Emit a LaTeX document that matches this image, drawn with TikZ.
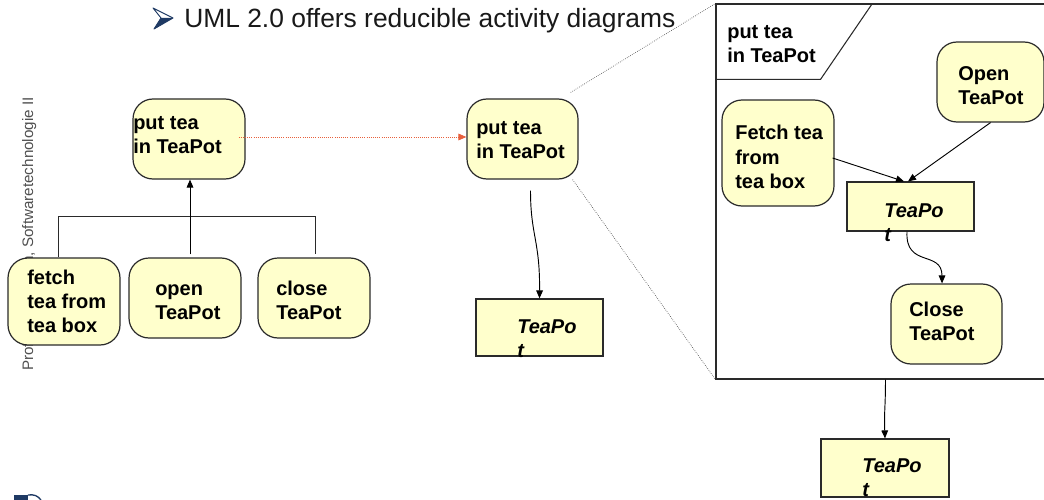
\documentclass[tikz,border=0pt]{standalone}
\usepackage{fontspec}
\setmainfont{Liberation Sans}
\usetikzlibrary{arrows.meta,calc,fit}

\definecolor{actfill}{HTML}{FFFFCC}
\definecolor{edge}{HTML}{2A2A2A}
\definecolor{navy}{HTML}{1F3A64}
\definecolor{redflow}{HTML}{E8603C}
\definecolor{sidegray}{HTML}{505050}

\tikzset{
  box/.style={inner sep=0pt, draw=edge, line width=0.9pt, fill=actfill},
  act/.style={box, rounded corners=15pt},
  obj/.style={box},
  frm/.style={inner sep=0pt, draw=edge, line width=0.8pt},
  % labels are placed by the baseline of their last line
  lbl/.style={anchor=base west, align=left, inner sep=0pt,
              font=\bfseries\fontsize{15}{18}\selectfont},
  objlbl/.style={lbl, font=\bfseries\itshape\fontsize{15}{18}\selectfont},
  flow/.style={draw=black, line width=0.7pt, -{Triangle[length=6pt,width=5pt]}},
  tree/.style={draw=edge, line width=0.7pt},
  refine/.style={draw=redflow, line width=0.6pt, densely dotted,
                 -{Triangle[length=6pt,width=5pt,fill=redflow]}},
  zoomline/.style={draw=black!70, line width=0.5pt, densely dotted},
}

\begin{document}
\begin{tikzpicture}[x=0.75pt, y=-0.75pt]
\useasboundingbox (0,0) rectangle (1044,499);

% side caption (partly covered by the first leaf action)
\node[rotate=90, anchor=base west, inner sep=0pt, text=sidegray,
      font=\fontsize{11.4}{13}\selectfont] (side) at (33,371)
      {Prof. U. Aßmann, Softwaretechnologie II};

% headline with its bullet
\fill[navy] (161,18) -- (173,18) -- (154,29) -- cycle;
\draw[navy, line width=0.7pt, line join=round]
  (153,8) -- (173,18) -- (154,29) -- (161,18) -- cycle;
\node[anchor=base west, inner sep=0pt, text=black!90,
      font=\fontsize{19.8}{23}\selectfont] (head) at (184,28)
      {UML 2.0 offers reducible activity diagrams};

% footer logo fragment
\fill[navy] (14,495) rectangle (28,500);
\draw[navy, line width=1pt] (28,495) .. controls (34,494) and (38,496) .. (41,500);

% ---------- decomposition tree ----------
\node[act, fit={(133,99) (245,179)}] (put1) {};
\node[lbl] (put1t) at (133,153) {put tea\\in TeaPot};

\node[act, fit={(8,258) (120,345)}] (fetch1) {};
\node[lbl] (fetch1t) at (27,332) {fetch\\tea from\\tea box};

\node[act, fit={(129,258) (241,338)}] (open1) {};
\node[lbl] (open1t) at (155,319) {open\\TeaPot};

\node[act, fit={(258,258) (370,338)}] (close1) {};
\node[lbl] (close1t) at (276,319) {close\\TeaPot};

\draw[tree] ($(fetch1.north)+(-6,0)$) -- ++(0,-41) -| ($(close1.north)+(1,-3)$);
\draw[flow] ($(put1.south |- open1.north)+(1,-3)$) -- ($(put1.south)+(1,0)$);

% ---------- abstract view ----------
\node[act, fit={(467,99) (578,179)}] (put2) {};
\node[lbl] (put2t) at (476,158) {put tea\\in TeaPot};

\node[obj, fit={(476,299) (603,356)}] (tp2) {};
\node[objlbl] (tp2t) at (517,357) {TeaPo\\t};

\draw[flow] ($(put2.south)+(8,11)$) .. controls +(0,45) and (540,240) .. (tp2.north);

% refinement link
\draw[refine] ($(put1.east)+(-7,-2)$) -- ($(put2.west)+(0,-2)$);

% ---------- expanded activity ----------
\node[frm, fit={(716,4) (1052,379)}] (frame) {};
\draw[frm] ($(frame.north west)+(0,76)$) -- ++(105,0) -- (872,4);
\node[lbl] (framet) at (727,63) {put tea\\in TeaPot};

\draw[zoomline] ($(put2.north east)+(-8,-6)$) -- (frame.north west);
\draw[zoomline] ($(put2.south east)+(-6,0)$) -- (frame.south west);

\node[act, fit={(722,100) (834,206)}] (fetch3) {};
\node[lbl] (fetch3t) at (735,188) {Fetch tea\\from\\tea box};

\node[act, fit={(937,42) (1044,122)}] (open3) {};
\node[lbl] (open3t) at (958,105) {Open\\TeaPot};

\node[obj, fit={(847,182) (974,231)}] (tp3) {};
\node[objlbl] (tp3t) at (884,241) {TeaPo\\t};

\node[act, fit={(891,284) (1002,364)}] (close3) {};
\node[lbl] (close3t) at (909,340) {Close\\TeaPot};

\draw[flow] ($(fetch3.east)+(-2,5)$) -- ($(tp3.north)+(-6.5,0)$);
\draw[flow] (open3.south) -- ($(tp3.north)+(-2.5,0)$);
\draw[flow] ($(tp3.south)+(-3.5,0)$) .. controls (905,268) and (942,250) .. ($(close3.north)+(-4.5,0)$);

\node[obj, fit={(821,439) (949,497)}] (tp4) {};
\node[objlbl] (tp4t) at (862,496) {TeaPo\\t};

\draw[flow] ($(frame.south west)+(170,0)$) .. controls +(0,30) and (884,410) .. (tp4.north);
\end{tikzpicture}
\end{document}
